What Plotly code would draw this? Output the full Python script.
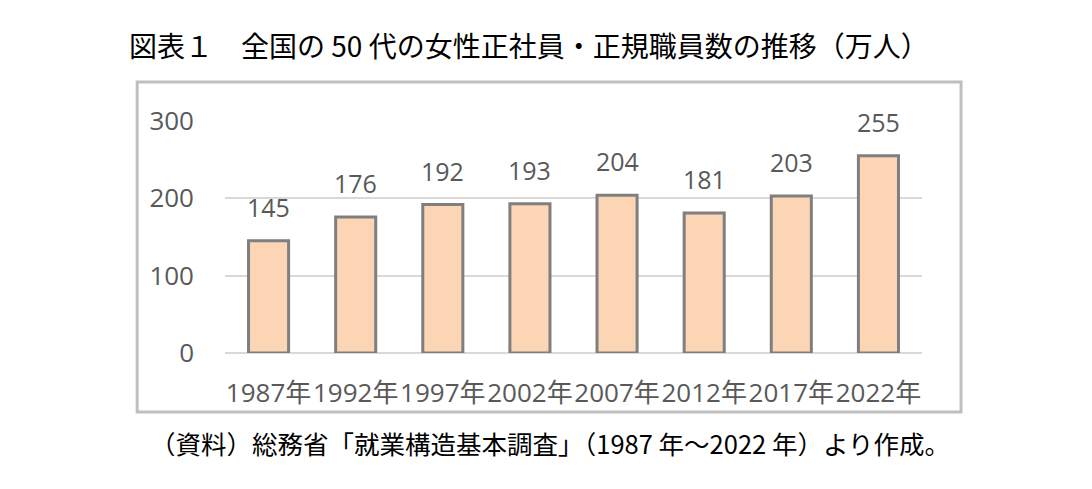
import plotly.graph_objects as go

# 全国の50代の女性正社員・正規職員数（万人）
years = ["1987年", "1992年", "1997年", "2002年", "2007年", "2012年", "2017年", "2022年"]
workers = [145, 176, 192, 193, 204, 181, 203, 255]
y_ticks = [0, 100, 200, 300]

title_text = "図表１　全国の 50 代の女性正社員・正規職員数の推移（万人）"
note_text = "（資料）総務省「就業構造基本調査」（1987 年～2022 年）より作成。"

num_font = "Open Sans, Noto Sans CJK JP, sans-serif"
jp_font = "Noto Sans CJK JP, sans-serif"
gray_text = "#595959"

fig = go.Figure(go.Bar(
    x=years,
    y=workers,
    width=0.46,
    marker=dict(color="#FCD5B5", line=dict(color="#7F7F7F", width=3)),
    hoverinfo="x+y",
))

# データラベル
for yr, v in zip(years, workers):
    fig.add_annotation(
        x=yr, y=v, text=str(v), showarrow=False,
        xref="x", yref="y", yanchor="bottom", yshift=15,
        font=dict(family=num_font, size=25, color=gray_text),
    )

# タイトルと注記
fig.add_annotation(
    text=title_text, xref="paper", yref="paper", x=-0.141, y=1.328,
    xanchor="left", yanchor="middle", showarrow=False,
    font=dict(family=jp_font, size=28, color="#000000"),
)
fig.add_annotation(
    text=note_text, xref="paper", yref="paper", x=-0.111, y=-0.384,
    xanchor="left", yanchor="middle", showarrow=False,
    font=dict(family=jp_font, size=25.5, color="#000000"),
)

# グラフの枠
fig.add_shape(
    type="rect", xref="paper", yref="paper",
    x0=-0.126, x1=1.056, y0=-0.254, y1=1.168,
    line=dict(color="#BFBFBF", width=3), fillcolor="rgba(0,0,0,0)",
    layer="below",
)

fig.update_layout(
    width=1084, height=481,
    margin=dict(l=217, r=170, t=113, b=136),
    plot_bgcolor="white", paper_bgcolor="white",
    showlegend=False,
    xaxis=dict(
        showgrid=False, showline=False, ticks="", tickangle=0,
        tickfont=dict(family=num_font, size=26, color=gray_text),
        ticklabelstandoff=22,
    ),
    yaxis=dict(
        range=[0, 300], tickvals=y_ticks,
        showgrid=True, gridcolor="#D9D9D9", gridwidth=2,
        zeroline=True, zerolinecolor="#D9D9D9", zerolinewidth=2,
        showline=False, ticks="",
        tickfont=dict(family=num_font, size=26, color=gray_text),
        ticklabelstandoff=30,
    ),
)

fig.write_html("out.html")
